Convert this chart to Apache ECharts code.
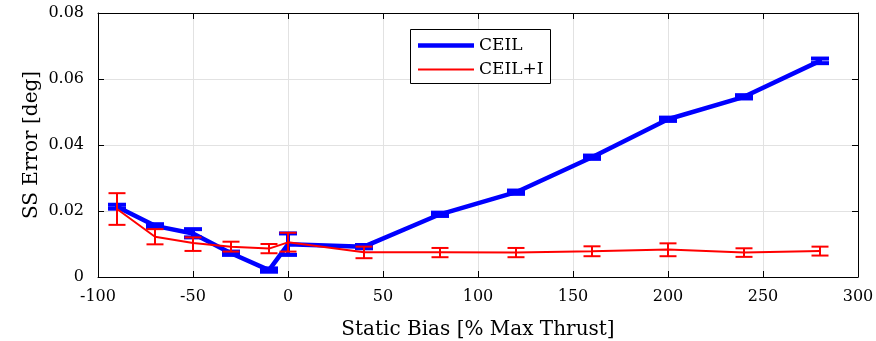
<!DOCTYPE html>
<html><head><meta charset="utf-8">
<script src="https://cdn.jsdelivr.net/npm/echarts@6/dist/echarts.min.js"></script>
<style>html,body{margin:0;padding:0;background:#fff}#c{width:876px;height:341px}</style>
</head><body><div id="c"></div>
<script>
// Data
const xs = [-90, -70, -50, -30, -10, 0, 40, 80, 120, 160, 200, 240, 280];
const ceilMean = [0.0213, 0.0155, 0.0132, 0.0072, 0.0021, 0.0099, 0.0092, 0.0190, 0.0257, 0.0363, 0.0478, 0.0546, 0.0655];
const ceilLo   = [0.0207, 0.0150, 0.0120, 0.0067, 0.0016, 0.0067, 0.0087, 0.0185, 0.0252, 0.0358, 0.0473, 0.0541, 0.0648];
const ceilHi   = [0.0219, 0.0160, 0.0145, 0.0077, 0.0026, 0.0132, 0.0097, 0.0195, 0.0262, 0.0368, 0.0483, 0.0551, 0.0662];
const ceilIMean = [0.0206, 0.0122, 0.0103, 0.0092, 0.0086, 0.0105, 0.0075, 0.0075, 0.0074, 0.0078, 0.0083, 0.0074, 0.0079];
const ceilILo   = [0.0158, 0.0099, 0.0079, 0.0077, 0.0072, 0.0077, 0.0057, 0.0060, 0.0060, 0.0063, 0.0063, 0.0061, 0.0065];
const ceilIHi   = [0.0254, 0.0145, 0.0120, 0.0107, 0.0100, 0.0134, 0.0092, 0.0088, 0.0088, 0.0093, 0.0102, 0.0087, 0.0092];
const seriesNames = ['CEIL', 'CEIL+I'];
const xTicks = {min: -100, max: 300, interval: 50};
const yTicks = {min: 0, max: 0.08, interval: 0.02};

const FONT = 'DejaVu Serif';
const chart = echarts.init(document.getElementById('c'));

function pairs(m){ return xs.map((x,i)=>[x, m[i]]); }
function errData(lo, hi){ return xs.map((x,i)=>[x, lo[i], hi[i]]); }
function errRender(color, lw, hw){
  return function(params, api){
    const x = api.value(0);
    const p1 = api.coord([x, api.value(1)]);
    const p2 = api.coord([x, api.value(2)]);
    const st = {stroke: color, lineWidth: lw};
    return {type: 'group', children: [
      {type:'line', shape:{x1:p1[0], y1:p1[1], x2:p2[0], y2:p2[1]}, style: st},
      {type:'line', shape:{x1:p1[0]-hw, y1:p1[1], x2:p1[0]+hw, y2:p1[1]}, style: st},
      {type:'line', shape:{x1:p2[0]-hw, y1:p2[1], x2:p2[0]+hw, y2:p2[1]}, style: st}
    ]};
  };
}

const axisLineStyle = {show: true, onZero: false, lineStyle:{color:'#000', width:1}};
const tickStyle = {show: true, inside: true, length: 6, lineStyle:{color:'#000'}};
const labelStyle = {fontFamily: FONT, fontSize: 16, color:'#000'};
const legendCommon = {
  orient: 'vertical', left: 418, padding: 0, itemWidth: 56, icon: 'rect',
  textStyle: {fontFamily: FONT, fontSize: 17, color: '#000'}, z: 10
};

chart.setOption({
  animation: false,
  backgroundColor: '#fff',
  grid: {left: 98, right: 18, top: 13, bottom: 64, containLabel: false, outerBoundsMode: 'none'},
  graphic: [{type: 'rect', left: 410, top: 29, z: 5,
    shape: {width: 140, height: 54},
    style: {fill: '#fff', stroke: '#000', lineWidth: 1}}],
  legend: [
    Object.assign({top: 37, itemHeight: 4.5, data: [seriesNames[0]]}, legendCommon),
    Object.assign({top: 61, itemHeight: 2, data: [seriesNames[1]]}, legendCommon)
  ],
  xAxis: [{
    type: 'value', min: xTicks.min, max: xTicks.max, interval: xTicks.interval,
    name: 'Static Bias [% Max Thrust]', nameLocation: 'middle', nameGap: 43, nameMoveOverlap: false,
    nameTextStyle: {fontFamily: FONT, fontSize: 20, color:'#000'},
    axisLine: axisLineStyle, axisTick: tickStyle,
    axisLabel: Object.assign({margin: 12}, labelStyle),
    splitLine: {show: true, lineStyle: {color: '#e2e2e2', width: 1}}
  }, {
    type: 'value', position: 'top', min: xTicks.min, max: xTicks.max, interval: xTicks.interval,
    axisLine: axisLineStyle, axisTick: tickStyle,
    axisLabel: {show: false}, splitLine: {show: false}
  }],
  yAxis: [{
    type: 'value', min: yTicks.min, max: yTicks.max, interval: yTicks.interval,
    name: 'SS Error [deg]', nameLocation: 'middle', nameGap: 56, nameMoveOverlap: false,
    nameTextStyle: {fontFamily: FONT, fontSize: 20, color:'#000'},
    axisLine: axisLineStyle, axisTick: tickStyle,
    axisLabel: Object.assign({margin: 14, formatter: v => v === 0 ? '0' : v.toFixed(2)}, labelStyle),
    splitLine: {show: true, lineStyle: {color: '#e2e2e2', width: 1}}
  }, {
    type: 'value', position: 'right', min: yTicks.min, max: yTicks.max, interval: yTicks.interval,
    axisLine: axisLineStyle, axisTick: tickStyle,
    axisLabel: {show: false}, splitLine: {show: false}
  }],
  series: [
    {name: seriesNames[0], type: 'line', data: pairs(ceilMean), symbol: 'none',
     lineStyle: {color: '#0000ff', width: 4.5}, itemStyle: {color: '#0000ff'}, z: 2},
    {name: seriesNames[0] + ' err', type: 'custom', data: errData(ceilLo, ceilHi),
     renderItem: errRender('#0000ff', 4, 9), encode: {x: 0, y: [1, 2]}, z: 3},
    {name: seriesNames[1], type: 'line', data: pairs(ceilIMean), symbol: 'none',
     lineStyle: {color: '#ff0000', width: 2}, itemStyle: {color: '#ff0000'}, z: 4},
    {name: seriesNames[1] + ' err', type: 'custom', data: errData(ceilILo, ceilIHi),
     renderItem: errRender('#ff0000', 2, 8.5), encode: {x: 0, y: [1, 2]}, z: 5}
  ]
});
</script></body></html>
